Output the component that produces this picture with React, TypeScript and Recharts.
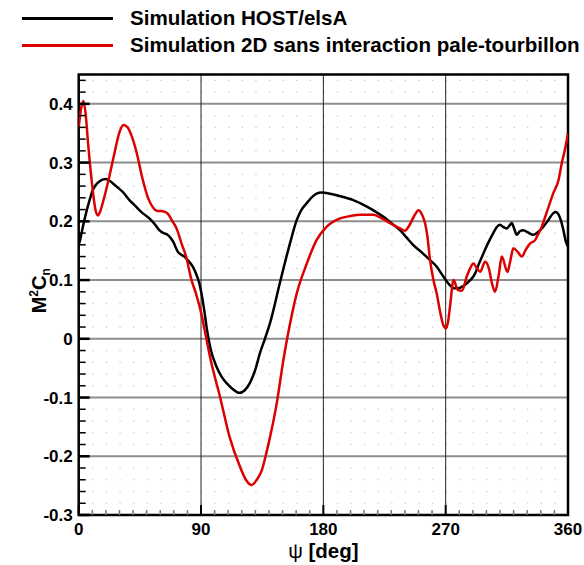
import React from 'react';
import {
  LineChart,
  Line,
  XAxis,
  YAxis,
  CartesianGrid,
  ReferenceArea,
} from 'recharts';

// HOST/elsA simulation (black)
const hostPsi = [
  0, 1, 3, 5.4, 8, 10.3, 13, 15.2, 19.6, 22, 25, 28.5, 32.4, 37, 42.2, 47, 52, 56, 59.3, 62.5,
  65.5, 67.5, 69.6, 71.5, 73, 75.5, 77.7, 81, 83.9, 86.5, 88.8, 90.5, 92.4, 94.5, 97, 101.5,
  105, 109, 113, 118.2, 122, 126, 130, 133.4, 137, 140.8, 148, 155.5, 160.4, 164, 167.8, 172,
  175, 178.8, 185, 192, 202, 212, 218, 224, 230, 236.4, 241, 246, 252, 258.5, 263, 268.3,
  273.2, 276, 279.3, 283, 286.7, 289, 291.6, 294.5, 297.7, 301, 305, 307.5, 310, 312.5, 315,
  317, 318.6, 320.5, 322.3, 324.5, 327.2, 330.5, 334.5, 338, 341.9, 345.5, 349.2, 351, 353,
  355, 356.6, 358.5, 360,
];
const hostCn = [
  0.16, 0.168, 0.19, 0.214, 0.236, 0.253, 0.263, 0.268, 0.272, 0.27, 0.265, 0.258, 0.25, 0.237,
  0.225, 0.214, 0.205, 0.195, 0.185, 0.18, 0.177, 0.172, 0.165, 0.155, 0.148, 0.143, 0.14,
  0.132, 0.123, 0.11, 0.094, 0.075, 0.048, 0.014, -0.017, -0.048, -0.064, -0.076, -0.085,
  -0.092, -0.088, -0.075, -0.052, -0.024, 0.0, 0.027, 0.095, 0.163, 0.202, 0.22, 0.231, 0.242,
  0.247, 0.249, 0.247, 0.243, 0.236, 0.225, 0.217, 0.208, 0.197, 0.185, 0.173, 0.16, 0.148,
  0.134, 0.124, 0.106, 0.091, 0.086, 0.086, 0.09, 0.097, 0.102, 0.111, 0.128, 0.145, 0.162,
  0.18, 0.19, 0.194, 0.19, 0.188, 0.193, 0.197, 0.187, 0.177, 0.183, 0.185, 0.181, 0.177,
  0.182, 0.191, 0.202, 0.214, 0.216, 0.212, 0.2, 0.185, 0.165, 0.157,
];

// 2D simulation without blade-vortex interaction (red)
const sansPsi = [
  0, 2, 3.5, 5, 7, 10.5, 12.5, 14.2, 16, 18, 22.5, 26.5, 30, 33, 36, 39, 42.5, 47, 51, 54,
  57.5, 62, 65.5, 69, 72, 76, 79, 83, 86.3, 90, 93.7, 97, 104, 111, 118.7, 123, 127.3, 131,
  134.7, 138, 140.8, 145.7, 150.6, 155.5, 160.4, 167.8, 175, 182.5, 192.3, 200, 207, 216.8,
  223, 229, 236.4, 240, 243, 247, 250, 252.5, 254.8, 256.5, 258.5, 261, 263.4, 266, 268.5,
  270.3, 271.8, 273.2, 275.8, 279, 282, 285.5, 288, 290.4, 293, 295.3, 299, 302, 304, 306.3,
  309, 311.3, 315.4, 317.5, 319.8, 323, 326, 329, 332, 335.8, 338.5, 340.7, 345, 349.2, 353,
  355.4, 358, 360,
];
const sansCn = [
  0.36, 0.395, 0.405, 0.385, 0.33, 0.25, 0.218, 0.21, 0.218, 0.234, 0.276, 0.318, 0.352, 0.364,
  0.36, 0.345, 0.318, 0.272, 0.24, 0.226, 0.218, 0.217, 0.213, 0.2, 0.188, 0.16, 0.14, 0.1,
  0.077, 0.045, 0.003, -0.035, -0.099, -0.167, -0.218, -0.24, -0.249, -0.24, -0.224, -0.195,
  -0.167, -0.11, -0.036, 0.026, 0.077, 0.128, 0.168, 0.191, 0.205, 0.209, 0.211, 0.211, 0.205,
  0.197, 0.188, 0.184, 0.192, 0.21, 0.219, 0.212, 0.197, 0.175, 0.134, 0.1, 0.077, 0.045,
  0.022, 0.018, 0.03, 0.055, 0.1, 0.083, 0.082, 0.106, 0.12, 0.128, 0.12, 0.114, 0.131, 0.118,
  0.095, 0.08, 0.108, 0.14, 0.114, 0.132, 0.154, 0.148, 0.14, 0.152, 0.162, 0.168, 0.18, 0.191,
  0.22, 0.248, 0.27, 0.299, 0.325, 0.35,
];

const seriesNames = [
  'Simulation HOST/elsA',
  'Simulation 2D sans interaction pale-tourbillon',
];
const seriesColors = ['#000000', '#dd0000'];

const xMajor = [0, 90, 180, 270, 360];
const yMajor = [-0.3, -0.2, -0.1, 0, 0.1, 0.2, 0.3, 0.4];
const xTicks = Array.from({ length: 37 }, (_, i) => i * 10);
const yTicks = Array.from({ length: 38 }, (_, i) => Math.round((-0.3 + i * 0.02) * 100) / 100);

const hostData = hostPsi.map((psi, i) => ({ psi, v: hostCn[i] }));
const sansData = sansPsi.map((psi, i) => ({ psi, v: sansCn[i] }));

const FONT = '"Liberation Sans", Arial, Helvetica, sans-serif';

const fmtY = (v: number) => (v === 0 ? '0' : v.toFixed(1));

const XTick = (props: any) => {
  const { x, y, payload } = props;
  const major = xMajor.includes(payload.value);
  return (
    <g>
      <line
        x1={x}
        x2={x}
        y1={y}
        y2={y - (major ? 10 : 5)}
        stroke={major ? '#000' : '#777'}
        strokeWidth={major ? 2 : 1.5}
      />
      {major && (
        <text x={x} y={y + 20} textAnchor="middle" fontFamily={FONT} fontWeight="bold" fontSize={17} fill="#000">
          {payload.value}
        </text>
      )}
    </g>
  );
};

const YTick = (props: any) => {
  const { x, y, payload } = props;
  const major = yMajor.some((m) => Math.abs(m - payload.value) < 1e-6);
  return (
    <g>
      <line
        x1={x}
        x2={x + (major ? 11 : 7)}
        y1={y}
        y2={y}
        stroke="#000"
        strokeWidth={major ? 2.5 : 1.5}
      />
      {major && (
        <text x={x - 6} y={y + 6} textAnchor="end" fontFamily={FONT} fontWeight="bold" fontSize={17} fill="#000">
          {fmtY(payload.value)}
        </text>
      )}
    </g>
  );
};

const XTitle = (props: any) => {
  const { viewBox } = props;
  const cx = viewBox.x + viewBox.width / 2;
  return (
    <text x={cx} y={viewBox.y + 43} textAnchor="middle" fontFamily={FONT} fontWeight="bold" fontSize={20.5} fill="#000">
      <tspan fontWeight="normal">ψ</tspan> [deg]
    </text>
  );
};

const YTitle = (props: any) => {
  const { viewBox } = props;
  const cy = viewBox.y + viewBox.height / 2 - 4;
  const tx = 46;
  return (
    <text
      x={tx}
      y={cy}
      transform={`rotate(-90 ${tx} ${cy})`}
      textAnchor="middle"
      fontFamily={FONT}
      fontWeight="bold"
      fontSize={20}
      fill="#000"
    >
      M<tspan fontSize={12} dy={-8}>2</tspan>
      <tspan dy={8}>C</tspan>
      <tspan fontSize={12} dy={4}>n</tspan>
    </text>
  );
};

const ChartLegend = () => (
  <div style={{ position: 'absolute', left: 0, top: 0, fontFamily: FONT }}>
    {seriesNames.map((name, i) => (
      <div
        key={name}
        style={{ position: 'absolute', left: 22, top: 7 + i * 27, display: 'flex', alignItems: 'center', whiteSpace: 'nowrap' }}
      >
        <div style={{ width: 91, height: 3, background: seriesColors[i] }} />
        <span style={{ marginLeft: 17, fontSize: 20.6, fontWeight: 'bold', color: '#000', lineHeight: '22px' }}>
          {name}
        </span>
      </div>
    ))}
  </div>
);

const App = () => {
  return (
    <div style={{ position: 'absolute', left: 0, top: 0, width: 584, height: 565, background: '#fff' }}>
      <LineChart
        width={584}
        height={565}
        margin={{ top: 74.5, right: 16, bottom: 20, left: 8.7 }}
      >
        <CartesianGrid
          vertical={false}
          horizontalValues={yTicks}
          stroke="#c4c4c4"
          strokeWidth={1.2}
          strokeDasharray="1.2 12.39"
        />
        <CartesianGrid
          vertical={false}
          horizontalValues={[0.4, 0.3, 0.2, 0.1, 0, -0.1, -0.2]}
          stroke="#8e8e8e"
          strokeWidth={2}
        />
        <CartesianGrid
          horizontal={false}
          verticalValues={[90, 180, 270]}
          stroke="#222"
          strokeWidth={1}
        />
        <XAxis
          dataKey="psi"
          type="number"
          domain={[0, 360]}
          ticks={xTicks}
          interval={0}
          allowDataOverflow
          height={30}
          tickSize={0}
          tickMargin={0}
          tickLine={false}
          axisLine={false}
          tick={<XTick />}
          label={(p: any) => <XTitle {...p} />}
        />
        <YAxis
          type="number"
          domain={[-0.3, 0.45]}
          ticks={yTicks}
          interval={0}
          allowDataOverflow
          width={70}
          tickSize={0}
          tickMargin={0}
          tickLine={false}
          axisLine={false}
          tick={<YTick />}
          label={(p: any) => <YTitle {...p} />}
        />
        <ReferenceArea
          x1={0}
          x2={360}
          y1={-0.3}
          y2={0.45}
          fill="none"
          stroke="#000"
          strokeWidth={2.5}
          fillOpacity={0}
        />
        <Line
          data={hostData}
          dataKey="v"
          type="monotone"
          stroke={seriesColors[0]}
          strokeWidth={2.5}
          dot={false}
          isAnimationActive={false}
        />
        <Line
          data={sansData}
          dataKey="v"
          type="monotone"
          stroke={seriesColors[1]}
          strokeWidth={2.5}
          dot={false}
          isAnimationActive={false}
        />
      </LineChart>
      <ChartLegend />
    </div>
  );
};

export default App;
